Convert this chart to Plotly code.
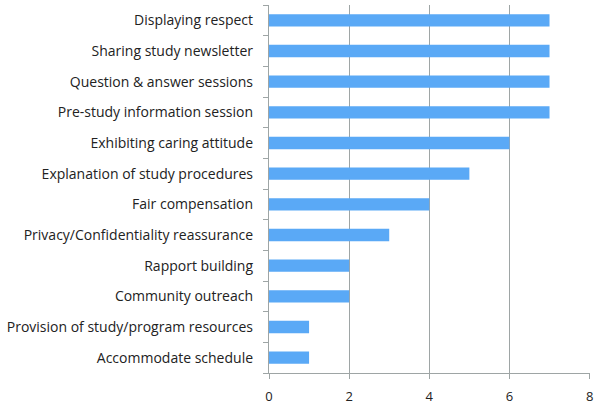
import plotly.graph_objects as go

# categories listed bottom-to-top (plotly draws the first category at the bottom)
strategies = [
    "Accommodate schedule",
    "Provision of study/program resources",
    "Community outreach",
    "Rapport building",
    "Privacy/Confidentiality reassurance",
    "Fair compensation",
    "Explanation of study procedures",
    "Exhibiting caring attitude",
    "Pre-study information session",
    "Question & answer sessions",
    "Sharing study newsletter",
    "Displaying respect",
]
counts = [1, 1, 2, 2, 3, 4, 5, 6, 7, 7, 7, 7]
x_ticks = [0, 2, 4, 6, 8]

axis_grey = "#9ea5a5"

fig = go.Figure(
    go.Bar(
        x=counts,
        y=strategies,
        orientation="h",
        width=0.4,
        marker=dict(color="#5aa9f6", line=dict(width=0)),
    )
)

fig.update_xaxes(
    range=[0, 8.01],
    tickvals=x_ticks,
    showgrid=True,
    gridcolor=axis_grey,
    gridwidth=1.3,
    showline=True,
    linecolor=axis_grey,
    linewidth=1.3,
    ticks="outside",
    ticklen=5,
    tickcolor=axis_grey,
    zeroline=False,
    automargin=False,
    ticklabelstandoff=6,
    tickfont=dict(size=13, color="#222"),
)

fig.update_yaxes(
    tickson="boundaries",
    ticks="outside",
    ticklen=5,
    tickcolor=axis_grey,
    showgrid=False,
    showline=True,
    linecolor=axis_grey,
    linewidth=1.3,
    automargin=False,
    ticklabelstandoff=12,
    tickfont=dict(size=14, color="#222"),
)

fig.update_layout(
    width=600,
    height=406,
    margin=dict(l=269, r=10, t=5, b=33),
    plot_bgcolor="white",
    paper_bgcolor="white",
    font=dict(family="'Open Sans', sans-serif"),
    showlegend=False,
    bargap=0.6,
)

# drop the page's default body margin so the figure sits at the window corner
fig.write_html(
    "out.html",
    config={"displayModeBar": False},
    post_script="document.body.style.margin='0';",
)
